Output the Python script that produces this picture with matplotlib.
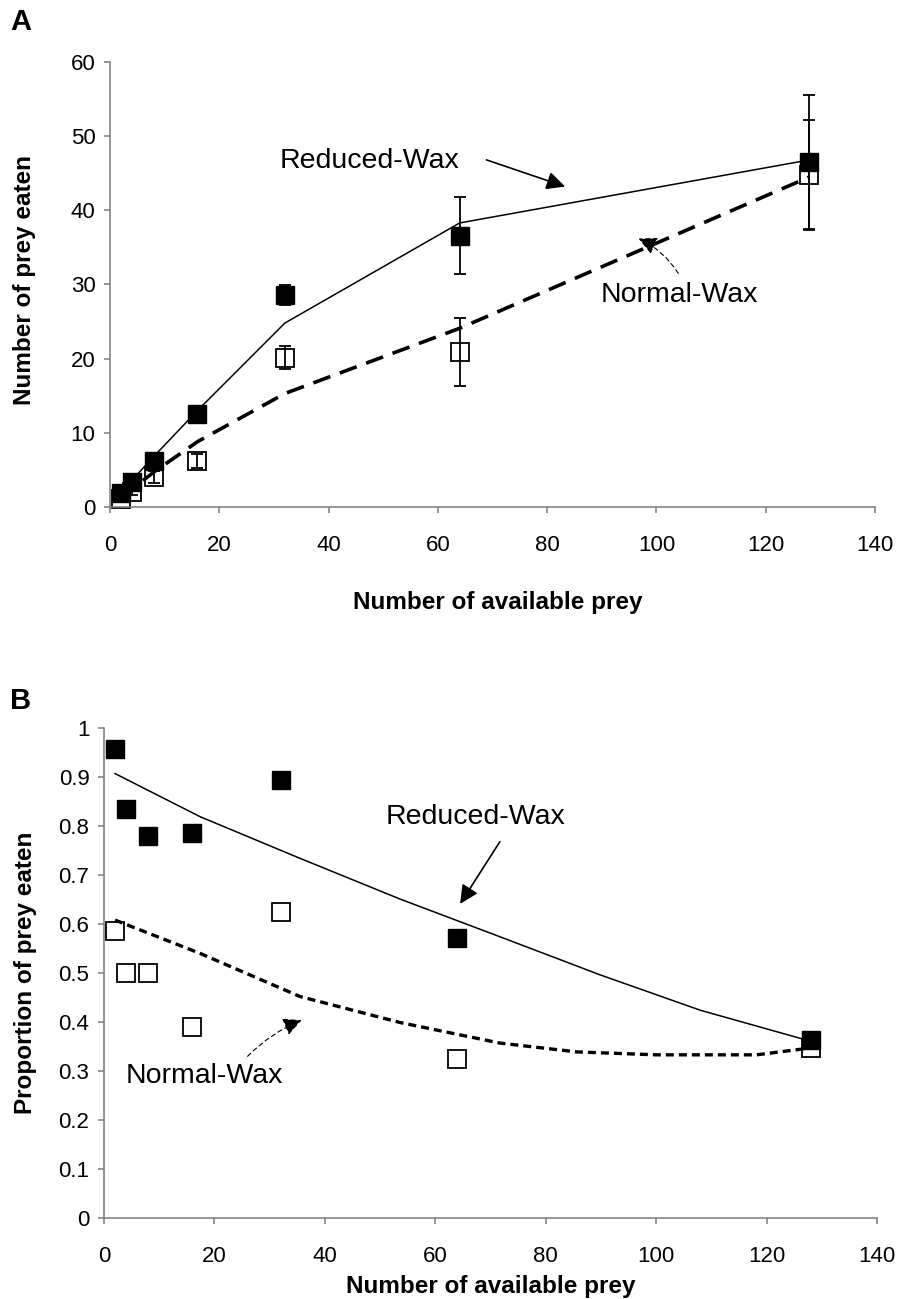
import matplotlib.pyplot as plt
import numpy as np

plt.rcParams['font.family'] = ['Liberation Sans', 'DejaVu Sans']

# ---- panel A data (number of prey eaten) ----
prey = [2, 4, 8, 16, 32, 64, 128]
reduced_eaten = [1.9, 3.4, 6.2, 12.6, 28.6, 36.6, 46.5]
reduced_err = [0.3, 0.4, 0.5, 0.6, 1.3, 5.2, 9.0]
normal_eaten = [1.1, 2.0, 4.0, 6.2, 20.1, 20.9, 44.8]
normal_err = [0.2, 0.4, 0.8, 1.0, 1.55, 4.65, 7.4]
reduced_fit_a = [1.9, 3.6, 6.8, 13.0, 24.8, 38.3, 46.8]
normal_fit_a = [1.2, 2.4, 4.7, 8.8, 15.3, 24.1, 44.5]

# ---- panel B data (proportion of prey eaten) ----
reduced_prop = [0.958, 0.834, 0.78, 0.785, 0.893, 0.571, 0.363]
normal_prop = [0.585, 0.5, 0.5, 0.39, 0.625, 0.324, 0.347]
reduced_curve_x = [2, 17.4, 35.5, 53.6, 71.7, 89.9, 108, 126, 128]
reduced_curve_y = [0.907, 0.819, 0.734, 0.651, 0.574, 0.496, 0.424, 0.367, 0.362]
normal_curve_x = [2, 17.4, 35.5, 53.6, 71.7, 85.6, 100, 118.2, 128]
normal_curve_y = [0.608, 0.540, 0.452, 0.399, 0.357, 0.339, 0.333, 0.333, 0.347]

W, H = 897, 1299
fig = plt.figure(figsize=(W / 100, H / 100), dpi=100)

def px_axes(left, right, top, bottom):
	return fig.add_axes([left / W, 1 - bottom / H, (right - left) / W, (bottom - top) / H])

def style_axes(ax):
	for s in ['top', 'right']:
		ax.spines[s].set_visible(False)
	for s in ['left', 'bottom']:
		ax.spines[s].set_color('#7a7a7a')
		ax.spines[s].set_linewidth(1.1)
	ax.tick_params(direction='out', length=4.5, width=1.1, color='#7a7a7a', labelsize=16)
	ax.tick_params(axis='x', pad=16)
	ax.tick_params(axis='y', pad=6)

def draw_points(ax, x, filled, open_, ferr=None, oerr=None):
	ax.plot(x, open_, 's', ms=13, mfc='white', mec='black', mew=1.3, ls='none', zorder=2, clip_on=False)
	ax.plot(x, filled, 's', ms=13, mfc='black', mec='black', mew=1.0, ls='none', zorder=3, clip_on=False)
	if ferr is not None:
		ax.errorbar(x, filled, yerr=ferr, fmt='none', ecolor='black', elinewidth=1.3,
					capsize=4.5, capthick=1.3, zorder=4)
		ax.errorbar(x, open_, yerr=oerr, fmt='none', ecolor='black', elinewidth=1.3,
					capsize=4.5, capthick=1.3, zorder=4)

head = '-|>,head_length=0.45,head_width=0.22'

# ================= A =================
axA = px_axes(110, 875, 62, 507)
style_axes(axA)
draw_points(axA, prey, reduced_eaten, normal_eaten, reduced_err, normal_err)
axA.plot(prey, reduced_fit_a, '-', color='black', lw=1.1, zorder=5)
axA.plot(prey, normal_fit_a, color='black', lw=2.6, dashes=(5, 2.8), zorder=5)
axA.set_xlim(0, 140)
axA.set_ylim(0, 60)
axA.set_xticks(range(0, 141, 20))
axA.set_yticks(range(0, 61, 10))
axA.set_xlabel('Number of available prey', fontsize=17.5, fontweight='bold', va='center')
axA.xaxis.set_label_coords(0.507, -0.2135)
axA.set_ylabel('Number of prey eaten', fontsize=17.5, fontweight='bold', va='center')
axA.yaxis.set_label_coords(-0.112, 0.51)

axA.text(47.4, 46.6, 'Reduced-Wax', fontsize=20.5, ha='center', va='center')
axA.annotate('', xy=(83.3, 43.2), xytext=(68.9, 46.8),
			 arrowprops=dict(arrowstyle=head, color='black', lw=1.2, mutation_scale=25,
							 shrinkA=0, shrinkB=0))
axA.text(104.2, 28.6, 'Normal-Wax', fontsize=20.5, ha='center', va='center')
axA.annotate('', xy=(96.7, 36.2), xytext=(104.0, 31.5),
			 arrowprops=dict(arrowstyle=head, color='black', lw=0.8, ls=(0, (4, 3)),
							 mutation_scale=25, shrinkA=0, shrinkB=0,
							 connectionstyle='arc3,rad=0.15'))

# ================= B =================
axB = px_axes(104, 877, 728, 1218)
style_axes(axB)
draw_points(axB, prey, reduced_prop, normal_prop)
axB.plot(reduced_curve_x, reduced_curve_y, '-', color='black', lw=1.1, zorder=5)
axB.plot(normal_curve_x, normal_curve_y, color='black', lw=2.4, dashes=(2.4, 1.5), zorder=5)
axB.set_xlim(0, 140)
axB.set_ylim(0, 1)
axB.set_xticks(range(0, 141, 20))
yt = np.round(np.arange(0, 1.01, 0.1), 1)
axB.set_yticks(yt, labels=['0'] + ['%.1f' % v for v in yt[1:-1]] + ['1'])
axB.set_xlabel('Number of available prey', fontsize=17.5, fontweight='bold', va='center')
axB.xaxis.set_label_coords(0.5, -0.14)
axB.set_ylabel('Proportion of prey eaten', fontsize=17.5, fontweight='bold', va='center')
axB.yaxis.set_label_coords(-0.102, 0.5)

axB.text(67.2, 0.818, 'Reduced-Wax', fontsize=20.5, ha='center', va='center')
axB.annotate('', xy=(64.5, 0.641), xytext=(71.7, 0.768),
			 arrowprops=dict(arrowstyle=head, color='black', lw=1.2, mutation_scale=25,
							 shrinkA=0, shrinkB=0))
axB.text(18.1, 0.29, 'Normal-Wax', fontsize=20.5, ha='center', va='center')
axB.annotate('', xy=(35.8, 0.404), xytext=(26.0, 0.33),
			 arrowprops=dict(arrowstyle=head, color='black', lw=0.8, ls=(0, (4, 3)),
							 mutation_scale=25, shrinkA=0, shrinkB=0,
							 connectionstyle='arc3,rad=-0.1'))

fig.text(0.011, 1 - 22 / H, 'A', fontsize=21, fontweight='bold', ha='left', va='center')
fig.text(0.011, 1 - 701 / H, 'B', fontsize=21, fontweight='bold', ha='left', va='center')

fig.savefig('out.png', dpi=100)
